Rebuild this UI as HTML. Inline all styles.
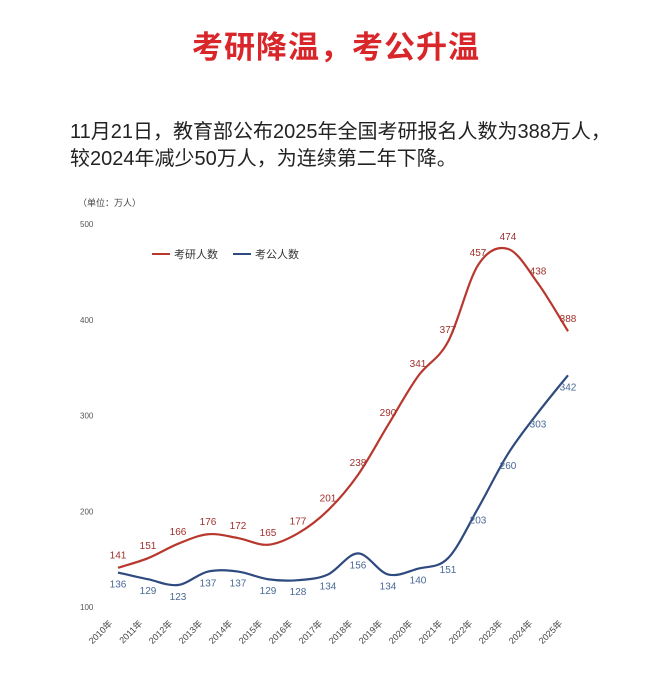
<!DOCTYPE html>
<html><head><meta charset="utf-8"><style>
body{margin:0;width:672px;height:686px;background:#fff;font-family:"Liberation Sans","Noto Sans CJK SC",sans-serif;overflow:hidden;position:relative}
#title{position:absolute;top:22px;left:0;width:672px;text-align:center;color:#d8262b;font-size:31px;font-weight:bold;letter-spacing:1px}
#desc{position:absolute;top:119px;left:70px;font-size:20px;color:#222;line-height:27px;white-space:nowrap}
svg{position:absolute;left:0;top:0}
</style></head><body>
<div id="title">考研降温，考公升温</div>
<div id="desc">11月21日，教育部公布2025年全国考研报名人数为388万人，<br>较2024年减少50万人，为连续第二年下降。</div>
<svg id="chart" width="672" height="686"></svg>
<script>
const years=["2010年","2011年","2012年","2013年","2014年","2015年","2016年","2017年","2018年","2019年","2020年","2021年","2022年","2023年","2024年","2025年"];
const kaoyan=[141,151,166,176,172,165,177,201,238,290,341,377,457,474,438,388];
const kaogong=[136,129,123,137,137,129,128,134,156,134,140,151,203,260,303,342];
const yTicks=[100,200,300,400,500];
const NS="http://www.w3.org/2000/svg";
const svg=document.getElementById('chart');
const x=i=>118+i*30;
const y=v=>607-(v-100)*0.9575;
function mk(t,a,p){const e=document.createElementNS(NS,t);for(const k in a)e.setAttribute(k,a[k]);(p||svg).appendChild(e);return e;}
const u=mk('text',{x:78,y:206,'font-size':9,fill:'#444'});u.textContent='（单位：万人）';


yTicks.forEach(v=>{const t=mk('text',{x:80,y:y(v)+3,'font-size':8,fill:'#555'});t.textContent=v;

});
years.forEach((yr,i)=>{const t=mk('text',{x:0,y:0,'font-size':9,fill:'#444','text-anchor':'end',transform:`translate(${x(i)-5},${624}) rotate(-45)`});t.textContent=yr;

});
function path(vals){const p=vals.map((v,i)=>[x(i),y(v)]);let d=`M${p[0][0]},${p[0][1]}`;
for(let i=0;i<p.length-1;i++){const p0=p[i-1]||p[i],p1=p[i],p2=p[i+1],p3=p[i+2]||p2;
d+=` C${p1[0]+(p2[0]-p0[0])/6},${p1[1]+(p2[1]-p0[1])/6} ${p2[0]-(p3[0]-p1[0])/6},${p2[1]-(p3[1]-p1[1])/6} ${p2[0]},${p2[1]}`;}return d;}
const r=mk('path',{d:path(kaoyan),fill:'none',stroke:'#b8382f','stroke-width':2.2});


const b=mk('path',{d:path(kaogong),fill:'none',stroke:'#2f4a7e','stroke-width':2.2});


kaoyan.forEach((v,i)=>{const t=mk('text',{x:x(i),y:y(v)-9,'font-size':10,fill:'#a0302c','text-anchor':'middle'});t.textContent=v;

});
kaogong.forEach((v,i)=>{const t=mk('text',{x:x(i),y:y(v)+15,'font-size':10,fill:'#4a6896','text-anchor':'middle'});t.textContent=v;

});
const l1=mk('line',{x1:152,y1:254,x2:170,y2:254,stroke:'#b8382f','stroke-width':2});


const t1=mk('text',{x:174,y:258,'font-size':11,fill:'#333'});t1.textContent='考研人数';


const l2=mk('line',{x1:233,y1:254,x2:251,y2:254,stroke:'#2f4a7e','stroke-width':2});


const t2=mk('text',{x:255,y:258,'font-size':11,fill:'#333'});t2.textContent='考公人数';


</script>
</body></html>
